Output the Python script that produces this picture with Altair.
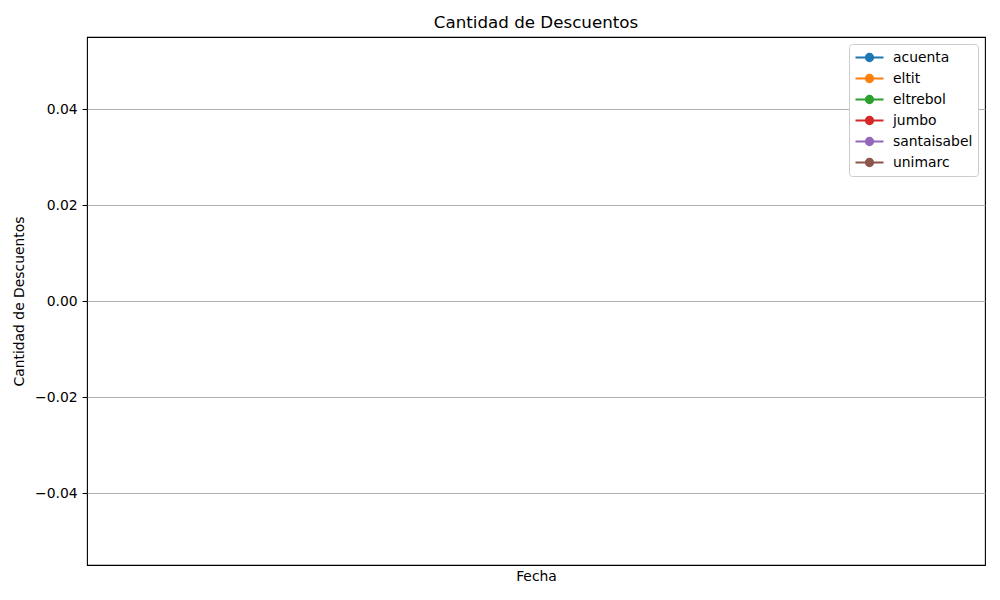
import altair as alt
import pandas as pd

# Data: the reference chart has no plotted values, only the series in the legend
series = ["acuenta", "eltit", "eltrebol", "jumbo", "santaisabel", "unimarc"]
colors = ["#1f77b4", "#ff7f0e", "#2ca02c", "#d62728", "#9467bd", "#8c564b"]
fechas = [None] * len(series)
valores = [None] * len(series)
y_ticks = [-0.04, -0.02, 0.0, 0.02, 0.04]

df = pd.DataFrame({"fecha": fechas, "serie": series, "valor": valores})

FONT = "DejaVu Sans"
# legend handle: a line with a filled circle in its middle (like matplotlib's)
sym_path = ("M-1,0L3,0M0.486,0A0.514,0.514,0,1,1,1.514,0"
            "A0.514,0.514,0,1,1,0.486,0Z")

legend = alt.Legend(
    title=None,
    orient="top-right",
    offset=7,
    symbolType=sym_path,
    symbolSize=196,
    symbolStrokeWidth=2.1,
    labelFont=FONT,
    labelFontSize=13.9,
    labelColor="#000000",
    labelOffset=22,
    rowPadding=4,
    padding=5,
    fillColor="#ffffff",
    strokeColor="#cccccc",
    cornerRadius=3,
)

scale = alt.Scale(domain=series, range=colors)

chart = (
    alt.Chart(df)
    .mark_point(filled=True, size=60, opacity=1)
    .encode(
        x=alt.X("fecha:T", title="Fecha",
                axis=alt.Axis(labels=False, ticks=False, grid=False, domain=False,
                              titleFont=FONT, titleFontSize=13.9, titleFontWeight="normal",
                              titleColor="#000000", titlePadding=4)),
        y=alt.Y("valor:Q", title="Cantidad de Descuentos",
                scale=alt.Scale(domain=[-0.055, 0.055], nice=False, zero=False),
                axis=alt.Axis(values=y_ticks,
                              labelExpr="replace(format(datum.value, '.2f'), '-', '\u2212')",
                              labelFont=FONT, labelFontSize=13.9, labelColor="#000000",
                              labelPadding=4.9, tickSize=4.9, tickWidth=1.1, tickColor="#000000",
                              domain=False, grid=True, gridColor="#b0b0b0", gridWidth=1.1,
                              titleFont=FONT, titleFontSize=13.9, titleFontWeight="normal",
                              titleColor="#000000", titlePadding=8)),
        fill=alt.Fill("serie:N", scale=scale, legend=legend),
        stroke=alt.Stroke("serie:N", scale=scale, legend=legend),
    )
    .properties(
        width=898,
        height=528,
        title=alt.TitleParams("Cantidad de Descuentos", font=FONT, fontSize=16.7,
                              fontWeight="normal", color="#000000", anchor="middle",
                              baseline="alphabetic", offset=8.3, dy=16),
        autosize=alt.AutoSizeParams(type="none"),
        padding={"left": 87, "top": 37, "right": 15, "bottom": 35},
        background="#ffffff",
    )
    .configure_view(stroke="#000000", strokeWidth=1.1)
)

chart.save("out.html", embed_options={"renderer": "svg", "actions": False})
